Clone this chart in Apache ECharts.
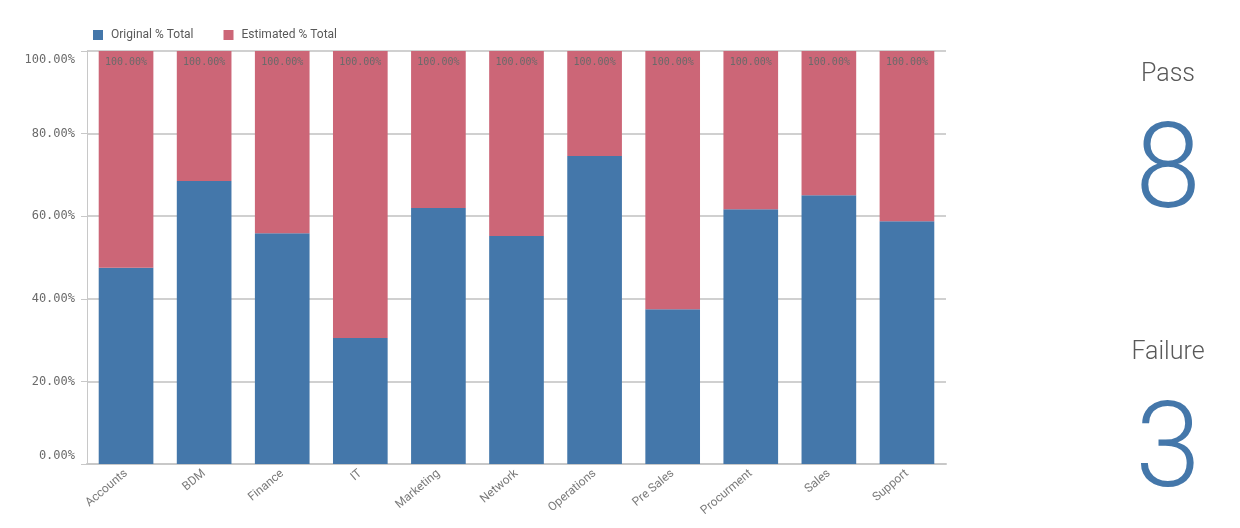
<!DOCTYPE html>
<html><head><meta charset="utf-8">
<script src="https://cdn.jsdelivr.net/npm/echarts@6/dist/echarts.min.js"></script>
<style>html,body{margin:0;padding:0;background:#fff}#c{width:1240px;height:528px}</style>
</head><body><div id="c"></div>
<script>
const categories = ['Accounts','BDM','Finance','IT','Marketing','Network','Operations','Pre Sales','Procurment','Sales','Support'];
const originalPct = [47.5, 68.5, 55.9, 30.5, 62.0, 55.2, 74.6, 37.5, 61.7, 65.1, 58.8];
const estimatedPct = [52.5, 31.5, 44.1, 69.5, 38.0, 44.8, 25.4, 62.5, 38.3, 34.9, 41.2];
const yTicks = [0, 20, 40, 60, 80, 100];
const kpiLabels = ['Pass', 'Failure'];
const kpiValues = [8, 3];

const chart = echarts.init(document.getElementById('c'));
const mono = 'DejaVu Sans Mono';
chart.setOption({
  animation: false,
  color: ['#4477aa', '#cc6677'],
  legend: {
    left: 88, top: 24, itemWidth: 10, itemHeight: 10, itemGap: 30, icon: 'rect',
    textStyle: { color: '#595959', fontSize: 12, fontFamily: 'Roboto', padding: [0,0,0,3] },
    data: ['Original % Total', 'Estimated % Total']
  },
  grid: { left: 87, right: 294, top: 51, bottom: 64, containLabel: false },
  xAxis: {
    type: 'category', data: categories,
    axisLine: { lineStyle: { color: '#c8c8c8', width: 2 } },
    axisTick: { show: false },
    axisLabel: { rotate: 40, color: '#7a7a7a', fontSize: 12, fontFamily: 'Roboto', margin: 8 }
  },
  yAxis: {
    type: 'value', min: yTicks[0], max: yTicks[yTicks.length - 1], interval: 20,
    axisLine: { show: true, lineStyle: { color: '#c8c8c8', width: 1 } },
    axisTick: { show: true, length: 6, lineStyle: { color: '#c8c8c8' } },
    splitLine: { lineStyle: { color: '#d0d0d0', width: 2 } },
    axisLabel: { color: '#6a6a6a', fontSize: 12, fontFamily: mono, margin: 12,
      formatter: v => {
        const s = v.toFixed(2) + '%';
        if (v === yTicks[yTicks.length - 1]) return '{mx|' + s + '}';
        if (v === yTicks[0]) return '{mn|' + s + '}';
        return s;
      },
      rich: {
        mx: { padding: [18, 0, 0, 0], color: '#6a6a6a', fontSize: 12, fontFamily: mono },
        mn: { padding: [0, 0, 16, 0], color: '#6a6a6a', fontSize: 12, fontFamily: mono }
      }
    }
  },
  series: [
    { name: 'Original % Total', type: 'bar', stack: 's', barWidth: '70%', data: originalPct },
    { name: 'Estimated % Total', type: 'bar', stack: 's', barWidth: '70%', data: estimatedPct,
      label: { show: true, position: 'insideTop', distance: 6, color: '#6a6a6a', fontSize: 10, fontFamily: mono,
        formatter: p => (originalPct[p.dataIndex] + estimatedPct[p.dataIndex]).toFixed(2) + '%' } }
  ],
  graphic: [
    { type: 'text', x: 1168, y: 75, style: { text: kpiLabels[0], fontSize: 25, fontFamily: 'Roboto', fontWeight: 300, fill: '#595959', align: 'center', verticalAlign: 'middle' } },
    { type: 'text', x: 1168, y: 177, style: { text: String(kpiValues[0]), fontSize: 118, fontFamily: 'Roboto', fontWeight: 300, fill: '#4477aa', align: 'center', verticalAlign: 'middle' } },
    { type: 'text', x: 1168, y: 353, style: { text: kpiLabels[1], fontSize: 25, fontFamily: 'Roboto', fontWeight: 300, fill: '#595959', align: 'center', verticalAlign: 'middle' } },
    { type: 'text', x: 1168, y: 456, style: { text: String(kpiValues[1]), fontSize: 118, fontFamily: 'Roboto', fontWeight: 300, fill: '#4477aa', align: 'center', verticalAlign: 'middle' } }
  ]
});
</script></body></html>
